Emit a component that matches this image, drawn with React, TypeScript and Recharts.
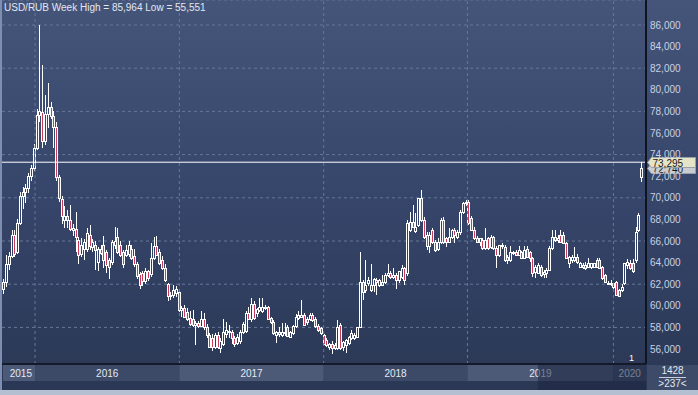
import { ComposedChart, Bar, XAxis, YAxis, CartesianGrid, ReferenceLine } from "recharts";

// weekly USD/RUB candles, Oct 2015 .. Mar 2020 (index = week number)
const openPrices = [
  61.6, 62.2, 63.9, 64.6, 66.6, 65.0, 67.7, 70.2, 70.5, 70.9,
  72.0, 72.8, 74.6, 77.7, 77.9, 75.3, 77.8, 78.4, 77.6, 76.6,
  71.9, 69.9, 67.9, 68.3, 67.9, 67.0, 67.1, 66.1, 64.8, 65.3,
  65.3, 66.6, 65.4, 65.6, 64.1, 65.3, 65.6, 65.0, 64.2, 64.1,
  65.6, 66.4, 65.6, 65.0, 64.7, 64.8, 65.3, 64.6, 63.9, 62.9,
  63.0, 62.3, 63.2, 62.9, 64.4, 65.5, 65.0, 64.2, 63.5, 62.0,
  60.9, 61.0, 61.2, 61.3, 59.6, 59.8, 59.4, 58.9, 58.8, 58.2,
  58.4, 58.1, 58.8, 58.0, 57.3, 57.0, 56.2, 57.3, 56.1, 56.5,
  57.4, 57.6, 57.6, 57.0, 56.6, 56.7, 57.6, 57.7, 59.3, 58.8,
  60.2, 59.3, 59.6, 59.5, 59.9, 59.9, 58.85, 58.5, 57.3, 57.6,
  57.3, 57.45, 58.0, 57.15, 57.45, 58.1, 58.9, 59.0, 59.15, 58.8,
  58.8, 59.15, 58.8, 58.1, 57.9, 57.3, 56.8, 56.2, 56.5, 56.4,
  56.06, 58.2, 56.2, 56.4, 56.6, 57.0, 57.0, 57.15, 58.07, 62.24,
  61.5, 62.08, 61.5, 61.9, 62.4, 61.93, 61.93, 62.24, 62.85, 63.0,
  62.7, 62.85, 62.4, 62.7, 63.47, 63.0, 67.0, 67.8, 66.9, 67.5,
  69.95, 67.95, 66.6, 65.5, 67.0, 65.9, 65.3, 65.9, 67.95, 66.25,
  65.94, 66.4, 67.0, 66.4, 66.87, 68.72, 69.5, 69.64, 68.1, 67.0,
  66.25, 65.94, 66.1, 65.32, 66.25, 65.48, 66.4, 65.32, 64.7, 65.5,
  65.48, 64.55, 64.24, 64.86, 65.0, 64.7, 65.0, 64.4, 65.3, 65.0,
  64.4, 63.16, 63.0, 63.63, 62.9, 63.0, 63.32, 65.33, 66.41, 66.1,
  66.56, 66.56, 65.79, 63.94, 64.24, 64.24, 64.55, 63.63, 63.78, 63.78,
  63.63, 63.63, 63.63, 64.24, 64.24, 63.63, 62.86, 62.0, 62.0, 61.78,
  62.24, 61.47, 61.47, 62.08, 63.78, 63.94, 63.94, 64.24, 67.02, 71.96,
];

const highPrices = [
  62.5, 64.7, 65.0, 67.0, 67.0, 68.0, 70.5, 71.0, 71.3, 72.3,
  73.0, 75.0, 78.2, 85.964, 82.3, 79.5, 80.6, 78.9, 78.0, 77.0,
  72.1, 70.2, 69.2, 68.9, 69.3, 67.6, 68.7, 66.4, 66.3, 66.2,
  67.2, 67.5, 66.2, 66.0, 65.4, 65.6, 66.5, 65.2, 64.4, 66.1,
  67.3, 67.2, 66.0, 65.2, 65.6, 66.0, 65.6, 65.3, 64.1, 63.1,
  63.2, 63.5, 63.3, 65.8, 66.4, 66.5, 65.3, 64.6, 63.9, 62.1,
  61.3, 61.9, 61.8, 61.5, 60.0, 60.1, 59.8, 59.5, 59.6, 58.6,
  58.6, 59.5, 59.3, 58.3, 57.5, 57.4, 57.5, 57.6, 57.0, 58.8,
  58.5, 58.2, 57.8, 57.2, 57.4, 57.8, 58.5, 59.5, 59.9, 60.7,
  60.4, 59.8, 60.7, 60.7, 60.1, 60.0, 59.0, 58.7, 57.7, 58.0,
  58.4, 58.4, 58.2, 57.7, 58.2, 59.2, 59.5, 60.5, 59.3, 59.0,
  59.3, 59.3, 59.0, 58.3, 58.0, 57.4, 57.0, 56.6, 56.7, 56.6,
  58.7, 58.4, 56.7, 56.9, 57.2, 57.8, 57.5, 57.9, 65.0, 62.4,
  64.24, 62.7, 63.9, 62.55, 62.6, 62.5, 62.85, 63.0, 63.9, 63.2,
  63.47, 63.0, 63.2, 63.8, 63.6, 67.9, 68.7, 69.3, 68.6, 70.0,
  70.7, 68.2, 66.8, 66.8, 67.2, 66.1, 66.3, 68.1, 68.2, 66.4,
  67.2, 67.1, 67.2, 67.0, 68.9, 69.6, 69.8, 69.8, 68.3, 67.3,
  66.5, 66.3, 66.3, 67.17, 66.4, 66.56, 66.5, 65.5, 65.6, 65.8,
  65.6, 64.7, 65.5, 65.1, 65.2, 65.5, 65.1, 65.5, 65.5, 65.1,
  64.5, 63.8, 64.0, 63.8, 63.3, 63.5, 65.5, 67.0, 67.02, 66.6,
  67.02, 66.8, 65.9, 64.6, 64.7, 65.48, 64.8, 64.1, 64.0, 64.09,
  64.4, 64.0, 64.0, 64.4, 64.4, 63.7, 62.9, 62.3, 62.4, 62.1,
  62.3, 61.6, 62.0, 64.0, 64.3, 64.2, 64.3, 67.33, 68.57, 73.35,
];

const lowPrices = [
  61.1, 61.7, 63.3, 64.4, 64.5, 64.8, 67.5, 69.0, 69.5, 70.4,
  71.6, 72.5, 74.4, 77.0, 74.6, 74.9, 76.5, 77.3, 74.6, 71.6,
  69.6, 67.6, 67.2, 67.2, 66.9, 66.5, 65.0, 63.9, 64.5, 64.2,
  65.0, 65.2, 65.0, 63.3, 63.2, 64.7, 63.5, 63.0, 62.5, 63.8,
  65.3, 64.8, 64.5, 63.5, 64.5, 64.5, 64.2, 63.6, 62.5, 61.6,
  61.8, 62.0, 62.3, 62.7, 64.2, 64.6, 63.8, 63.3, 62.2, 60.4,
  60.5, 60.7, 60.8, 59.4, 59.0, 58.9, 58.6, 58.1, 58.0, 56.4,
  57.9, 58.0, 57.8, 57.0, 56.1, 55.8, 56.0, 56.0, 55.6, 56.3,
  57.0, 57.0, 56.5, 56.2, 56.4, 56.5, 57.4, 57.5, 58.7, 58.5,
  58.7, 59.0, 59.4, 59.3, 59.6, 58.7, 58.3, 57.3, 56.6, 57.1,
  57.1, 57.2, 57.1, 57.0, 57.3, 57.9, 58.7, 58.9, 58.1, 58.2,
  58.6, 58.5, 57.9, 57.6, 57.3, 56.4, 56.2, 55.9, 55.551, 55.9,
  55.9, 55.9, 55.8, 55.6, 56.4, 56.8, 56.8, 57.0, 57.9, 60.5,
  61.2, 61.8, 61.3, 61.3, 61.0, 61.7, 61.8, 62.0, 62.7, 62.5,
  62.5, 61.6, 62.1, 62.5, 61.9, 62.8, 66.8, 67.2, 66.7, 67.3,
  67.8, 66.2, 65.2, 64.9, 65.7, 65.0, 65.1, 65.7, 65.7, 65.4,
  65.8, 66.2, 65.8, 66.2, 66.6, 68.5, 69.2, 67.5, 66.9, 66.1,
  65.8, 65.5, 65.2, 65.2, 65.2, 65.3, 65.2, 63.5, 64.5, 65.3,
  64.1, 63.9, 64.1, 64.7, 64.6, 64.6, 64.3, 64.3, 64.5, 64.1,
  62.7, 62.55, 62.9, 62.7, 62.55, 62.55, 63.2, 65.2, 65.9, 65.8,
  65.8, 65.7, 64.3, 63.47, 64.0, 64.1, 63.9, 63.5, 63.4, 63.3,
  63.5, 63.4, 63.5, 63.5, 63.4, 62.4, 62.1, 61.9, 61.8, 61.6,
  60.9, 60.85, 61.3, 61.9, 63.4, 63.3, 63.0, 64.0, 66.8, 71.5,
];

const closePrices = [
  62.2, 63.9, 64.6, 66.6, 64.8, 67.7, 70.2, 70.5, 70.9, 72.0,
  72.8, 74.6, 77.7, 78.0, 75.3, 77.8, 78.4, 77.6, 76.6, 71.9,
  70.0, 68.3, 68.3, 67.9, 67.1, 67.2, 66.4, 64.7, 65.6, 65.9,
  66.7, 65.5, 65.9, 65.2, 65.3, 64.9, 64.2, 63.8, 63.6, 65.9,
  66.0, 65.0, 64.7, 63.9, 65.2, 65.6, 64.4, 63.9, 62.8, 61.9,
  62.3, 63.2, 62.6, 64.4, 65.5, 64.7, 64.0, 63.5, 62.4, 60.9,
  61.0, 61.5, 61.6, 59.6, 59.8, 59.0, 58.8, 58.3, 58.2, 58.4,
  58.1, 58.8, 58.0, 57.3, 56.2, 56.2, 57.3, 56.2, 56.7, 57.6,
  57.8, 57.7, 57.0, 56.5, 57.1, 57.6, 58.3, 59.3, 58.8, 60.2,
  58.9, 59.7, 59.9, 59.9, 59.8, 58.8, 58.5, 57.45, 57.6, 57.4,
  57.6, 57.6, 57.2, 57.6, 58.1, 59.0, 59.15, 59.15, 58.2, 58.5,
  59.15, 58.7, 58.1, 57.8, 57.45, 56.5, 56.4, 56.5, 56.06, 56.06,
  58.07, 56.06, 56.66, 56.8, 57.1, 57.45, 57.3, 58.07, 62.24, 61.3,
  61.93, 62.4, 61.9, 62.5, 62.24, 62.4, 62.24, 62.85, 63.0, 62.7,
  62.85, 62.4, 63.2, 63.47, 62.4, 67.7, 67.8, 67.3, 67.3, 69.95,
  67.95, 66.4, 65.5, 66.6, 65.9, 65.2, 65.9, 67.95, 65.94, 65.94,
  66.4, 67.0, 66.56, 66.87, 68.72, 69.5, 69.64, 67.64, 67.0, 66.25,
  65.94, 66.25, 65.32, 66.1, 65.32, 66.4, 65.32, 64.7, 65.63, 65.63,
  64.24, 64.24, 65.0, 65.0, 64.7, 65.17, 64.4, 65.17, 64.55, 64.4,
  63.0, 63.63, 63.78, 62.86, 63.16, 63.32, 65.33, 66.41, 66.1, 66.25,
  65.94, 65.79, 64.4, 64.55, 64.55, 64.55, 64.09, 63.94, 63.63, 63.47,
  63.94, 63.94, 63.94, 63.63, 63.47, 62.55, 62.24, 62.08, 62.08, 62.08,
  61.0, 60.9, 61.78, 63.94, 64.09, 63.47, 63.2, 66.87, 68.41, 72.74,
];

const yearLabels = ["2015", "2016", "2017", "2018", "2019", "2020"];
const yearStarts = [11.4, 63.2, 115, 166.6, 219]; // week index where each new year begins
const priceTicks = [56, 58, 60, 62, 64, 66, 68, 70, 72, 74, 76, 78, 80, 82, 84, 86];
const askPrice = 73.295;
const lastPrice = 72.74;
const selectionStart = 191.9;

const W = 698;
const H = 395;
const PLOT_LEFT = 2;
const PLOT_RIGHT = 646;
const AXIS_TOP = 364;
const X_MIN = -0.467;
const X_MAX = 230.69;
const Y_MIN = 54.611;
const Y_MAX = 88.315;
const PX_PER_WEEK = (PLOT_RIGHT - PLOT_LEFT) / (X_MAX - X_MIN);
const FONT = '"Liberation Sans", Arial, sans-serif';

const candles = openPrices.map((open, i) => ({
  week: i,
  open,
  high: highPrices[i],
  low: lowPrices[i],
  close: closePrices[i],
  range: [lowPrices[i], highPrices[i]],
}));

const bandEdges = [X_MIN, ...yearStarts, X_MAX];
const bandCenters = yearLabels.map((_, i) =>
  i === 0 ? 6.3 : (bandEdges[i] + bandEdges[i + 1]) / 2
);

const fmt = (v: number) => v.toFixed(3).replace(".", ",");

function Candle(props: any) {
  const { x, y, width, height, payload } = props;
  if (!payload || height == null) return null;
  const { open, close, high, low } = payload;
  const cx = Math.round(x + width / 2) + 0.5;
  const k = height / (high - low || 1);
  let top = Math.round(y + (high - Math.max(open, close)) * k) + 0.5;
  let bottom = Math.round(y + (high - Math.min(open, close)) * k) + 0.5;
  if (bottom - top < 1) bottom = top + 1;
  const up = close >= open;
  return (
    <g>
      <line x1={cx} x2={cx} y1={Math.round(y)} y2={top} stroke="#ffffff" strokeWidth={1} />
      <line x1={cx} x2={cx} y1={bottom} y2={Math.round(y + height)} stroke="#ffffff" strokeWidth={1} />
      <rect
        x={cx - 1}
        y={top}
        width={2}
        height={bottom - top}
        fill={up ? "none" : "#c63c5a"}
        stroke="#ffffff"
        strokeWidth={1}
      />
    </g>
  );
}

function YearTick(props: any) {
  const { x, payload } = props;
  const i = bandCenters.indexOf(payload.value);
  if (i < 0) return null;
  const left = Math.max(x + (bandEdges[i] - payload.value) * PX_PER_WEEK, PLOT_LEFT + 1);
  const right = Math.min(x + (bandEdges[i + 1] - payload.value) * PX_PER_WEEK, PLOT_RIGHT);
  const last = i === yearLabels.length - 1;
  const selLeft = x + (selectionStart - payload.value) * PX_PER_WEEK;
  return (
    <g>
      <rect
        x={left}
        y={AXIS_TOP + 1}
        width={right - left}
        height={16}
        fill={i % 2 === 0 ? "#4c5a78" : "#3c4a68"}
      />
      <text x={x} y={AXIS_TOP + 13} textAnchor="middle" fontSize={10} fontFamily={FONT} fill="#e4e9f2">
        {yearLabels[i]}
      </text>
      {last && (
        <rect
          x={selLeft}
          y={AXIS_TOP + 1}
          width={PLOT_RIGHT - selLeft}
          height={25}
          fill="#1c2640"
          fillOpacity={0.55}
        />
      )}
    </g>
  );
}

function PriceTag(props: any) {
  const { viewBox, text, fill } = props;
  if (!viewBox) return null;
  const y = Math.round(viewBox.y) + 0.5;
  const x0 = PLOT_RIGHT + 1.5;
  return (
    <g>
      <path
        d={`M${x0},${y} L${x0 + 4},${y - 5} L${W - 2.5},${y - 5} L${W - 2.5},${y + 5} L${x0 + 4},${y + 5} Z`}
        fill={fill}
        stroke="#9aa0a8"
        strokeWidth={1}
      />
      <text x={x0 + 5} y={y + 4} fontSize={10} fontFamily={FONT} fill="#1a1a1a">
        {text}
      </text>
    </g>
  );
}

export default function App() {
  return (
    <div
      style={{
        position: "relative",
        width: W,
        height: H,
        overflow: "hidden",
        background: "linear-gradient(to bottom, #45557a 0%, #36456a 50%, #2a3754 100%)",
        fontFamily: FONT,
      }}
    >
      <style>{`body{margin:0}`}</style>
      <ComposedChart
        width={W}
        height={H}
        data={candles}
        margin={{ top: 0, right: 0, bottom: 5, left: PLOT_LEFT }}
      >
        <CartesianGrid vertical={false} stroke="#66779a" strokeDasharray="3 3" />
        {yearStarts.map((w) => (
          <ReferenceLine key={w} x={w} stroke="#66779a" strokeDasharray="3 3" />
        ))}
        <XAxis
          dataKey="week"
          type="number"
          domain={[X_MIN, X_MAX]}
          allowDataOverflow
          ticks={bandCenters}
          interval={0}
          height={26}
          tickLine={false}
          tickSize={0}
          axisLine={{ stroke: "#141a2a", strokeWidth: 2 }}
          tick={<YearTick />}
        />
        <YAxis
          orientation="right"
          type="number"
          domain={[Y_MIN, Y_MAX]}
          allowDataOverflow
          ticks={priceTicks}
          width={W - PLOT_RIGHT}
          tickLine={false}
          tickSize={0}
          tickMargin={4}
          tickFormatter={fmt}
          axisLine={{ stroke: "#10141f", strokeWidth: 2 }}
          tick={{ fill: "#c9d1e2", fontSize: 10, fontFamily: FONT, textAnchor: "start" }}
        />
        <Bar dataKey="range" barSize={3} shape={<Candle />} isAnimationActive={false} />
        <ReferenceLine
          y={lastPrice}
          strokeOpacity={0}
          label={<PriceTag text={fmt(lastPrice)} fill="#c9ccd2" />}
        />
        <ReferenceLine
          y={askPrice}
          stroke="#ffffff"
          strokeWidth={1}
          label={<PriceTag text={fmt(askPrice)} fill="#e6e4c6" />}
        />
      </ComposedChart>

      <div style={{ position: "absolute", left: 4, top: 2, fontSize: 10, color: "#e2e7f0", whiteSpace: "nowrap" }}>
        USD/RUB Week High = 85,964 Low = 55,551
      </div>
      <div style={{ position: "absolute", left: 629, top: 353, fontSize: 9, color: "#ffffff" }}>1</div>
      <div
        style={{
          position: "absolute",
          left: 647,
          top: AXIS_TOP + 1,
          width: W - 647,
          height: 25,
          background: "#3d4a68",
          color: "#e2e7f0",
          fontSize: 10,
          textAlign: "center",
          lineHeight: "12px",
        }}
      >
        <div style={{ borderBottom: "1px solid #c8d0de", margin: "0 12px" }}>1428</div>
        <div>&gt;237&lt;</div>
      </div>
      <div style={{ position: "absolute", left: 0, top: AXIS_TOP + 1, width: 2, height: 25, background: "#3d4a68" }} />
      <div style={{ position: "absolute", left: 0, top: 0, width: 2, height: H, background: "#7e8eb0" }} />
      <div style={{ position: "absolute", left: 0, top: H - 5, width: W, height: 5, background: "#b4bfd2" }} />
    </div>
  );
}
